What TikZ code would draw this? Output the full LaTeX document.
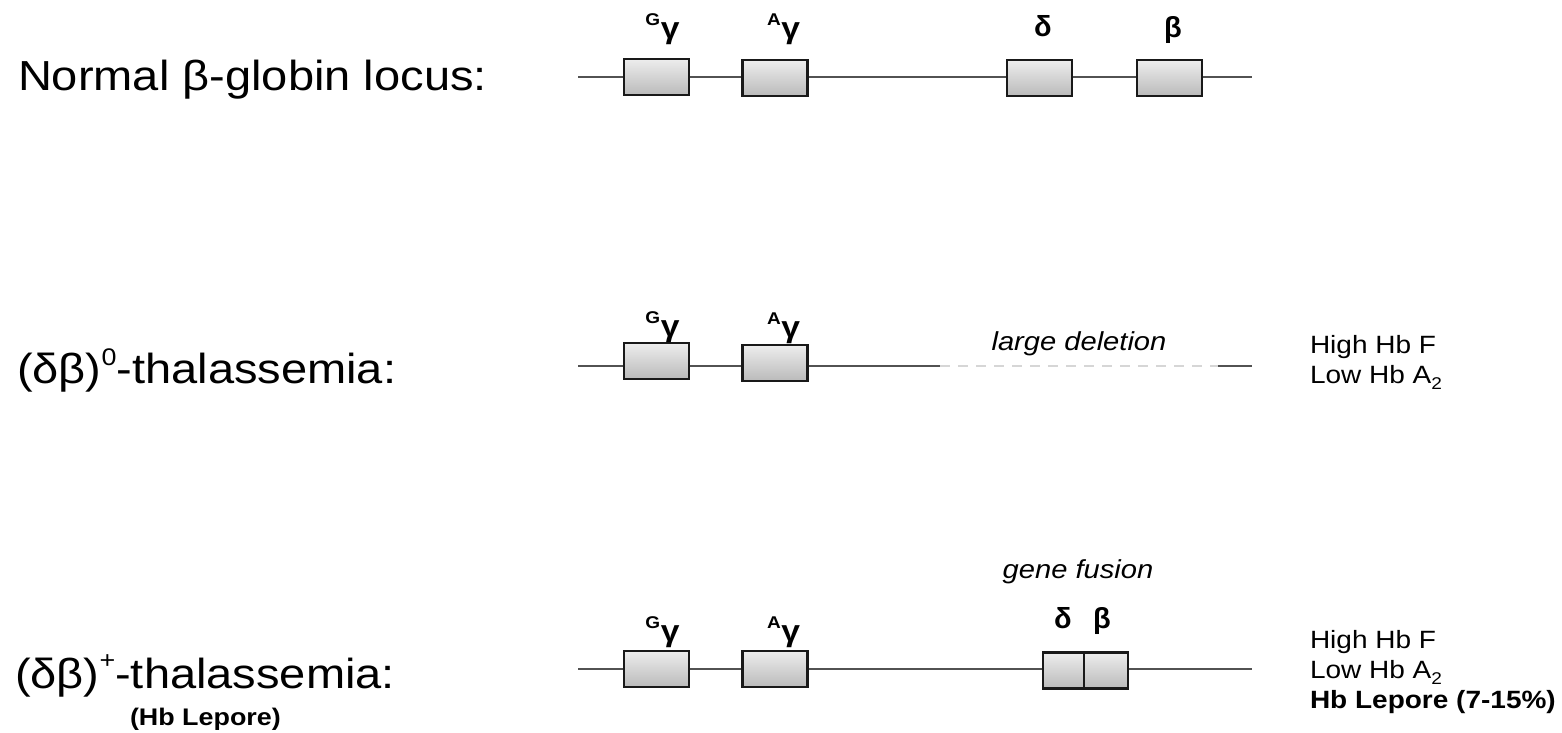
\documentclass[tikz,border=0pt]{standalone}
\usepackage{fontspec}
\setmainfont{Liberation Sans}
\usepackage{graphicx}
\newcommand\hstretch[1]{\scalebox{1.12}[1]{#1}}
\newcommand\fs[1]{\fontsize{#1}{#1}\selectfont}
% gene symbol with a left superscript, e.g. ^G gamma
\newcommand\gsym[1]{\hstretch{\raisebox{13pt}{\fs{17}#1}\kern0.5pt\fs{30}γ}}
\tikzset{
  dna/.style={draw=black!68, line width=2.2pt},
  deleted/.style={draw=black!16, line width=2pt, dash pattern=on 10pt off 8pt},
  gene/.style={draw=black!90, line width=2.4pt, top color=black!7, bottom color=black!27,
    minimum width=65pt, minimum height=36pt, inner sep=0pt, outer sep=0pt},
  txt/.style={inner sep=0pt, outer sep=0pt, anchor=base west},
  glabel/.style={inner sep=0pt, outer sep=0pt, anchor=base, font=\bfseries},
  note/.style={inner sep=0pt, outer sep=0pt, anchor=base, font=\itshape},
}
\begin{document}
\begin{tikzpicture}[x=1pt, y=-1pt]
\useasboundingbox (0,0) rectangle (1562,732);

% ---------- row 1: normal locus ----------
\node[txt] (t1) at (18,90) {\fs{42}\hstretch{Normal β-globin locus:}};
\coordinate (a1) at (578,77);
\coordinate (b1) at (1252,77);
\draw[dna] (a1) -- (b1);
\node[gene] (g1) at (656.5,77) {};
\node[gene] (h1) at (775,78) {};
\node[gene] (d1) at (1039.5,78) {};
\node[gene] (e1) at (1169.5,78) {};
\node[glabel] (lg1) at (662.5,38) {\gsym{G}};
\node[glabel] (lh1) at (783.5,38) {\gsym{A}};
\node[glabel] (ld1) at (1043,36) {\fs{29}δ};
\node[glabel] (le1) at (1173,37) {\fs{29}β};

% ---------- row 2: (delta beta)^0 ----------
\node[txt] (t2) at (17,383) {\fs{42}\hstretch{(δβ)\raisebox{18pt}{\fs{24}0}-thalassemia:}};
\coordinate (a2) at (578,366);
\coordinate (c2) at (940,366);
\coordinate (d2) at (1218,366);
\coordinate (b2) at (1252,366);
\draw[dna] (a2) -- (c2);
\draw[deleted] (c2) -- (d2);
\draw[dna] (d2) -- (b2);
\node[gene] (g2) at (656.5,361) {};
\node[gene] (h2) at (775,363) {};
\node[glabel] (lg2) at (662.5,336) {\gsym{G}};
\node[glabel] (lh2) at (783.5,337) {\gsym{A}};
\node[note] (del) at (1079,350) {\fs{26}\hstretch{large deletion}};
\node[txt] (r2a) at (1310,353) {\fs{25}\hstretch{High Hb F}};
\node[txt] (r2b) at (1310,383) {\fs{25}\hstretch{Low Hb A\raisebox{-6pt}{\fs{17}2}}};

% ---------- row 3: (delta beta)^+ / Hb Lepore ----------
\node[txt] (t3) at (15,688) {\fs{42}\hstretch{(δβ)\raisebox{19.5pt}{\fs{24}+}-thalassemia:}};
\node[txt, font=\bfseries] (t4) at (130,725) {\fs{24}\hstretch{(Hb Lepore)}};
\coordinate (a3) at (578,669);
\coordinate (b3) at (1252,669);
\draw[dna] (a3) -- (b3);
\node[gene] (g3) at (656.5,669) {};
\node[gene] (h3) at (775,669) {};
\node[gene, minimum width=41pt] (f3d) at (1063.5,670.5) {};
\node[gene, minimum width=44pt] (f3b) at (1106,670.5) {};
\node[glabel] (lg3) at (662.5,641) {\gsym{G}};
\node[glabel] (lh3) at (783.5,641) {\gsym{A}};
\node[glabel] (ld3) at (1063,628) {\fs{29}δ};
\node[glabel] (le3) at (1102,628) {\fs{29}β};
\node[note] (fus) at (1078,578) {\fs{26}\hstretch{gene fusion}};
\node[txt] (r3a) at (1310,648) {\fs{25}\hstretch{High Hb F}};
\node[txt] (r3b) at (1310,678) {\fs{25}\hstretch{Low Hb A\raisebox{-6pt}{\fs{17}2}}};
\node[txt, font=\bfseries] (r3c) at (1310,708) {\fs{25}\hstretch{Hb Lepore (7-15\%)}};
\end{tikzpicture}
\end{document}
